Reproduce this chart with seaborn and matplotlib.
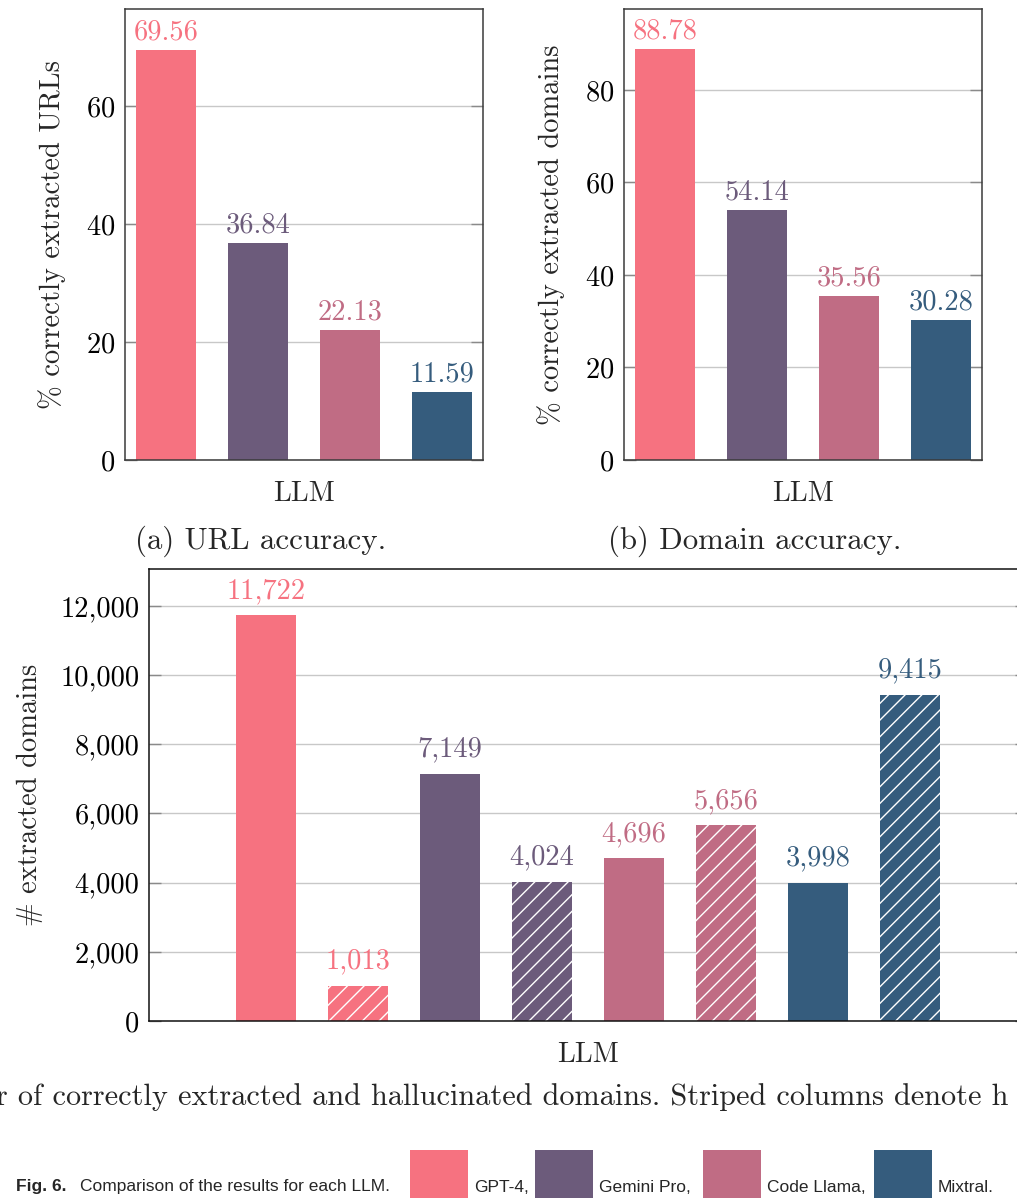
import numpy as np
import pandas as pd
import matplotlib
matplotlib.use("Agg")
import matplotlib.pyplot as plt
from matplotlib.patches import Rectangle
from matplotlib.ticker import FuncFormatter
import seaborn as sns

# %%
llms = ["GPT-4", "Gemini Pro", "Code Llama", "Mixtral"]
colors = ["#F67280", "#6C5B7B", "#C06C84", "#355C7D"]

url_acc = [69.56, 36.84, 22.13, 11.59]
domain_acc = [88.78, 54.14, 35.56, 30.28]

correct_domains = [11722, 7149, 4696, 3998]
halluc_domains = [1013, 4024, 5656, 9415]

palette = dict(zip(llms, colors))

# %%
sns.set_theme(style="whitegrid")
plt.rcParams["font.family"] = ["cmr10", "DejaVu Serif"]
plt.rcParams["axes.formatter.use_mathtext"] = True
plt.rcParams["hatch.linewidth"] = 1.0

FS = 20.5
CAP_FS = 22.2
W, H = 1017, 1198
fig = plt.figure(figsize=(W / 100, H / 100), dpi=100)

ax_a = fig.add_axes([125 / W, 1 - 460 / H, 358 / W, 451 / H])
ax_b = fig.add_axes([624 / W, 1 - 460 / H, 358 / W, 451 / H])
ax_c = fig.add_axes([149 / W, 1 - 1021 / H, 878 / W, 452 / H])


def style(ax, ymax, ticks, spine_col):
    ax.set_ylim(0, ymax)
    ax.set_yticks(ticks)
    ax.grid(axis="y", color="#c8c8c8", lw=1)
    ax.grid(axis="x", visible=False)
    ax.set_axisbelow(True)
    ax.tick_params(axis="y", direction="in", length=8.5, width=1, color="#8a8a8a",
                   left=True, right=True, labelsize=FS, pad=7, labelcolor="black")
    ax.tick_params(axis="x", length=0, labelbottom=False)
    for s in ax.spines.values():
        s.set_color(spine_col)
        s.set_linewidth(1.1)


# %%
df_acc = pd.DataFrame({"llm": llms, "url": url_acc, "domain": domain_acc})

for ax, col, ymax, ylab in [
    (ax_a, "url", 76.5, "% correctly extracted URLs"),
    (ax_b, "domain", 97.5, "% correctly extracted domains"),
]:
    sns.barplot(data=df_acc, x="llm", y=col, hue="llm", palette=palette,
                saturation=1, width=0.652, dodge=False, legend=False,
                linewidth=0, ax=ax)
    for i, v in enumerate(df_acc[col]):
        ax.annotate(f"{v:.2f}", (i, v), xytext=(0, 7.5), textcoords="offset points",
                    ha="center", va="baseline", color=colors[i], fontsize=FS)
    ax.set_xlim(-0.446, 3.446)
    style(ax, ymax, range(0, int(ymax), 20), "#3a3a3a")
    ax.set_ylabel(ylab, fontsize=FS, labelpad=14)
    ax.set_xlabel("LLM", fontsize=FS, labelpad=15)

fig.text(261 / W, 1 - 541 / H, "(a) URL accuracy.", fontsize=CAP_FS, ha="center", va="center")
fig.text(755 / W, 1 - 541 / H, "(b) Domain accuracy.", fontsize=CAP_FS, ha="center", va="center")

# %%
rows = []
for llm, c, h in zip(llms, correct_domains, halluc_domains):
    rows.append((f"{llm} correct", llm, "correct", c))
    rows.append((f"{llm} hallucinated", llm, "hallucinated", h))
df_dom = pd.DataFrame(rows, columns=["bar", "llm", "kind", "count"])

sns.barplot(data=df_dom, x="bar", y="count", hue="llm", palette=palette,
            saturation=1, width=0.652, dodge=False, legend=False,
            linewidth=0, ax=ax_c)

# striped bars = hallucinated domains
for p in ax_c.patches:
    idx = int(round(p.get_x() + p.get_width() / 2))
    if df_dom["kind"][idx] == "hallucinated":
        p.set_hatch("//")
        p.set_edgecolor("white")
        p.set_linewidth(0)

for i, row in df_dom.iterrows():
    ax_c.annotate(f"{row['count']:,}", (i, row["count"]), xytext=(0, 12.5),
                  textcoords="offset points", ha="center", va="baseline",
                  color=palette[row["llm"]], fontsize=FS)

ax_c.set_xlim(-1.27, 8.27)
style(ax_c, 13060, range(0, 13000, 2000), "#111111")
ax_c.yaxis.set_major_formatter(FuncFormatter(lambda x, _: f"{x:,.0f}"))
ax_c.set_ylabel("# extracted domains", fontsize=FS, labelpad=12)
ax_c.set_xlabel("LLM", fontsize=FS, labelpad=15)

fig.text(-4 / W, 1 - 1097 / H,
         "r of correctly extracted and hallucinated domains. Striped columns denote h",
         fontsize=21.8, ha="left", va="center")

# %%
# figure caption with colour key
cap_font = ["Liberation Sans", "DejaVu Sans"]
fig.text(16 / W, 1 - 1187 / H, "Fig. 6.", fontsize=12.5, fontweight="bold",
         family=cap_font, ha="left", va="center")
fig.text(80 / W, 1 - 1187 / H, "Comparison of the results for each LLM.", fontsize=12.5,
         family=cap_font, ha="left", va="center")

key_x = [410, 535, 703, 874]
key_lab = ["GPT-4,", "Gemini Pro,", "Code Llama,", "Mixtral."]
for x0, c, lab in zip(key_x, colors, key_lab):
    fig.patches.append(Rectangle((x0 / W, 0), 58 / W, 48 / H, transform=fig.transFigure,
                                 facecolor=c, edgecolor="none"))
    fig.text((x0 + 64) / W, 1 - 1187 / H, lab, fontsize=12.5, family=cap_font,
             ha="left", va="center")

fig.savefig("out.png", dpi=100)
